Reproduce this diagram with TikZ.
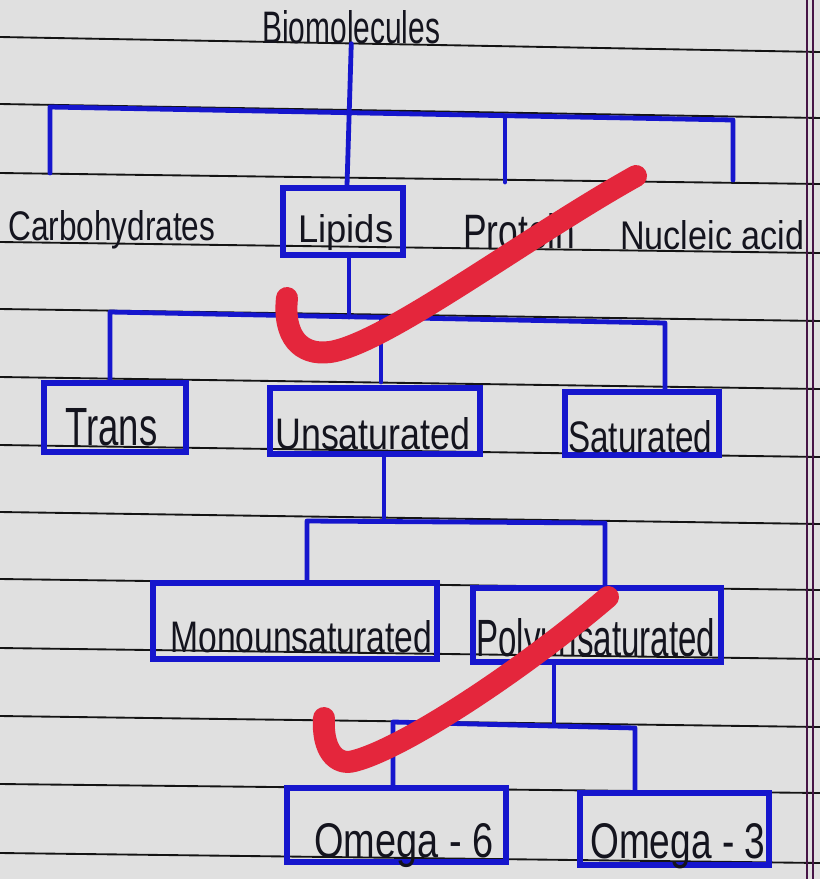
\documentclass[tikz,border=0pt]{standalone}
\usepackage{fontspec}
\usepackage{graphicx}
\setmainfont{Liberation Sans}
\newdimen\upx \upx=0.75pt
\newcommand\hw[3]{\resizebox{#1\upx}{#2\upx}{#3}}
\definecolor{paper}{RGB}{224,224,224}
\definecolor{ink}{RGB}{22,22,205}
\definecolor{pen}{RGB}{20,20,30}
\definecolor{rule}{RGB}{20,20,20}
\definecolor{margin}{RGB}{70,20,70}
\definecolor{tick}{RGB}{228,38,60}
\tikzset{
  rl/.style={draw=rule, line width=1.4pt},
  mg/.style={draw=margin, line width=1pt},
  bx/.style 2 args={draw=ink, line width=3.8pt, minimum width=#1*0.75pt, minimum height=#2*0.75pt, inner sep=0pt},
  conn/.style={draw=ink, line width=3.6pt, line cap=round, line join=round},
  lbl/.style={inner sep=0pt, text=pen, anchor=base west},
  chk/.style={draw=tick, line width=16.5pt, line cap=round, line join=round}
}
\begin{document}
\begin{tikzpicture}[x=0.75pt,y=-0.75pt]
\useasboundingbox (0,0) rectangle (820,879);
\fill[paper] (0,0) rectangle (820,879);
% ruled lines
\foreach \a/\b in {37/52,104/118,173/184,242/253,309/321,377/389,445/457,512/524,579/590,648/659,716/727,784/793,853/863}
  \draw[rl] (0,\a) -- (820,\b);
\draw[mg] (807,0) -- (807,879);
\draw[mg] (813,0) -- (813,879);

% text labels
\node[lbl] (bio) at (262,43) {\hw{178}{33}{Biomolecules}};
\node[lbl] (carb) at (8,240) {\hw{207}{30}{Carbohydrates}};
\node[lbl] (prot) at (463,248) {\hw{112}{35}{Protein}};
\node[lbl] (nucl) at (620,249) {\hw{184}{29}{Nucleic acid}};

% boxes
\node[bx={120}{67}] (lipids) at (343,221.5) {};
\node[lbl] (tlip) at (298,242) {\hw{95}{28}{Lipids}};
\node[bx={142}{69}] (trans) at (115,417.5) {};
\node[lbl] (ttrans) at (65,445) {\hw{92}{37}{Trans}};
\node[bx={210}{66}] (unsat) at (375,421) {};
\node[lbl] (tunsat) at (275,449) {\hw{195}{32}{Unsaturated}};
\node[bx={154}{63}] (sat) at (642,423.5) {};
\node[lbl] (tsat) at (568,452) {\hw{144}{32}{Saturated}};
\node[bx={284}{76}] (mono) at (295,621) {};
\node[lbl] (tmono) at (170,652) {\hw{262}{32}{Monounsaturated}};
\node[bx={248}{74}] (poly) at (597,625) {};
\node[lbl] (tpoly) at (476,656) {\hw{239}{38}{Polyunsaturated}};
\node[bx={219}{74}] (om6) at (396.5,825) {};
\node[lbl] (tom6) at (314,857) {\hw{179}{34}{Omega - 6}};
\node[bx={189}{72}] (om3) at (674.5,829) {};
\node[lbl] (tom3) at (590,858) {\hw{175}{35}{Omega - 3}};

% level 1 connectors
\coordinate (v1) at (347,0);
\coordinate (b1L) at (50,107);
\coordinate (b1R) at (733,120);
\coordinate (b1P) at (505,117);
\coordinate (e1C) at (50,173);
\coordinate (e1P) at (505,182);
\coordinate (e1N) at (733,180);
\draw[conn] (bio.south) -- (lipids.north -| v1);
\draw[conn] (e1C) -- (b1L) -- (b1R) -- (e1N);
\draw[conn] (b1P) -- (e1P);

% level 2 connectors
\coordinate (b2L) at (110,312);
\coordinate (b2M) at (349,317);
\coordinate (b2U) at (381,318);
\coordinate (b2R) at (665,323);
\coordinate (e2U) at (381,382);
\draw[conn] (lipids.south -| b2M) -- (b2M);
\draw[conn] (trans.north -| b2L) -- (b2L) -- (b2R) -- (sat.north -| b2R);
\draw[conn] (b2U) -- (e2U);

% level 3 connectors
\coordinate (b3M) at (384,521);
\coordinate (b3L) at (307,521);
\coordinate (b3R) at (605,523);
\draw[conn] (unsat.south -| b3M) -- (b3M);
\draw[conn] (mono.north -| b3L) -- (b3L) -- (b3R) -- (poly.north -| b3R);

% level 4 connectors
\coordinate (b4M) at (554,724);
\coordinate (b4L) at (393,722);
\coordinate (b4R) at (635,728);
\draw[conn] (poly.south -| b4M) -- (b4M);
\draw[conn] (om6.north -| b4L) -- (b4L) -- (b4R) -- (om3.north -| b4R);

% check marks
\draw[chk] (287,298) .. controls (283,336) and (300,356) .. (330,352) .. controls (385,344) and (525,238) .. (636,176);
\draw[chk] (324,718) .. controls (322,750) and (336,766) .. (354,761) .. controls (405,748) and (525,668) .. (608,597);
\end{tikzpicture}
\end{document}
